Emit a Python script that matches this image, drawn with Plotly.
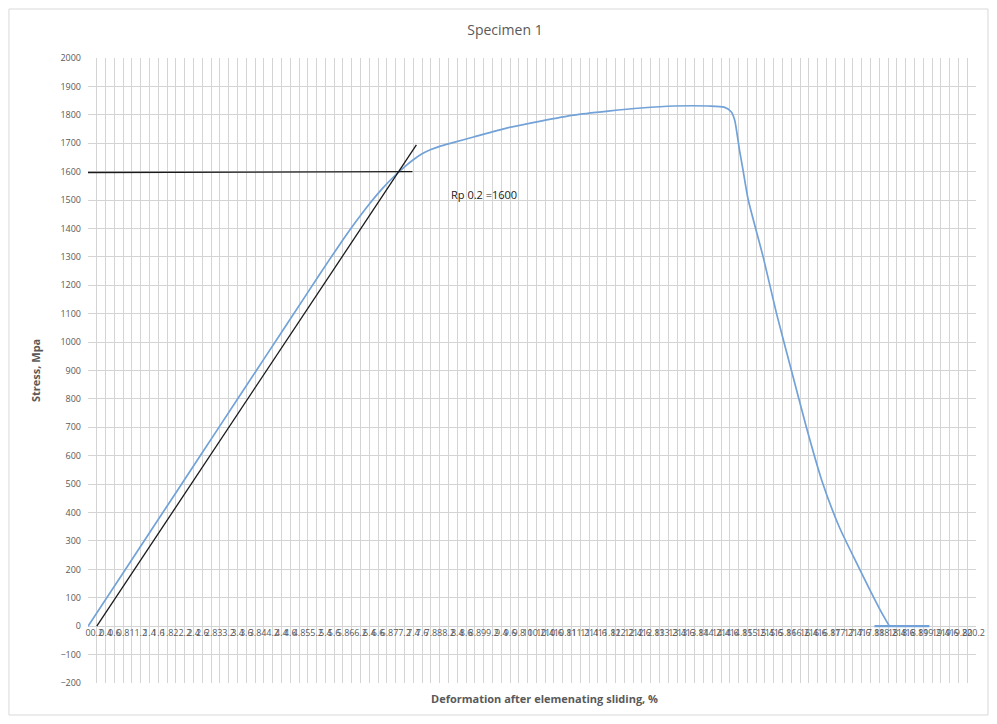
import plotly.graph_objects as go

# Stress-strain curve
strain = [0, 1.0, 2.0, 3.0, 4.0, 5.0, 5.5, 5.8, 6.1, 6.4, 6.7, 7.0, 7.2, 7.4,
          7.6, 7.8, 8.0, 8.3, 8.77, 9.54, 10.30, 11.05, 11.83, 12.58, 13.33, 14.11,
          14.47, 14.63, 14.71, 14.82, 14.90, 15.02, 15.36, 15.66, 16.00, 16.34, 16.69,
          17.09, 17.53, 18.00, 18.23]
stress = [0, 235, 470, 705, 940, 1175, 1292, 1360, 1425, 1486, 1541, 1589, 1617, 1642,
          1663, 1678, 1689, 1702, 1722, 1754, 1778, 1799, 1813, 1824, 1831, 1831,
          1827, 1811, 1782, 1676, 1606, 1500, 1299, 1102, 901, 701, 514,
          349, 208, 63, 0]

# Tail of the record after fracture (flat at zero)
tail_x = [18.23, 17.89, 19.14]
tail_y = [0, 0, 0]

# Offset (0.2 %) elastic line
offset_x = [0.2, 7.47]
offset_y = [0, 1694]

# Rp0.2 horizontal line
rp_x = [0, 7.38]
rp_y = [1597, 1600]

x_ticks = [round(i * 0.2, 1) for i in range(102)]
x_ticklabels = [f"{v:g}" for v in x_ticks]
y_ticks = list(range(-200, 2001, 100))

grid = "#d4d4d4"
lab = "#595959"
fnt = "Open Sans"
blue = "#72a2d7"

fig = go.Figure()
fig.add_trace(go.Scatter(x=strain, y=stress, mode="lines",
                         line=dict(color=blue, width=1.7, shape="spline", smoothing=0.6),
                         showlegend=False))
fig.add_trace(go.Scatter(x=tail_x, y=tail_y, mode="lines",
                         line=dict(color=blue, width=2.2), showlegend=False))
fig.add_trace(go.Scatter(x=offset_x, y=offset_y, mode="lines",
                         line=dict(color="#1a1a1a", width=1.3), showlegend=False))
fig.add_trace(go.Scatter(x=rp_x, y=rp_y, mode="lines",
                         line=dict(color="#1a1a1a", width=1.3), showlegend=False))

fig.update_layout(
    width=981, height=708,
    margin=dict(l=80, r=13, t=50, b=33, autoexpand=False),
    paper_bgcolor="white", plot_bgcolor="white",
    font=dict(family=fnt, color=lab, size=9),
    title=dict(text="Specimen 1", x=0.5066, xref="container", y=0.9689, yref="container",
               xanchor="center", yanchor="middle",
               font=dict(family=fnt, size=14, color=lab)),
    xaxis=dict(range=[0, 20.2], tickmode="array", tickvals=x_ticks, ticktext=x_ticklabels,
               tickangle=0, showgrid=True, gridcolor=grid, gridwidth=1,
               zeroline=False, showline=False, ticks="", automargin=False,
               anchor="free", position=200 / 2200,
               tickfont=dict(family=fnt, size=9, color=lab)),
    yaxis=dict(range=[-200, 2000], tickmode="array", tickvals=y_ticks,
               showgrid=True, gridcolor=grid, gridwidth=1,
               zeroline=False, showline=False, ticks="", automargin=False,
               ticklabelstandoff=6,
               tickfont=dict(family=fnt, size=9, color=lab)),
    annotations=[
        dict(text="Rp 0.2 =1600", x=9.0, y=1518, xref="x", yref="y", showarrow=False,
             font=dict(family=fnt, size=11, color="#1a1a1a")),
        dict(text="<b>Stress, Mpa</b>", x=-0.0597, y=0.5008, xref="paper", yref="paper",
             textangle=-90, showarrow=False, xanchor="center", yanchor="middle",
             font=dict(family=fnt, size=11, color=lab)),
        dict(text="<b>Deformation after elemenating sliding, %</b>", x=0.5146, y=-0.024,
             xref="paper", yref="paper", showarrow=False, xanchor="center", yanchor="middle",
             font=dict(family=fnt, size=11, color=lab)),
    ],
    shapes=[dict(type="rect", xref="paper", yref="paper", x0=-0.089, x1=1.0135,
                 y0=-0.0512, y1=1.0784, line=dict(color="#d9d9d9", width=1),
                 fillcolor="rgba(0,0,0,0)", layer="below")],
)

fig.write_html("out.html")
